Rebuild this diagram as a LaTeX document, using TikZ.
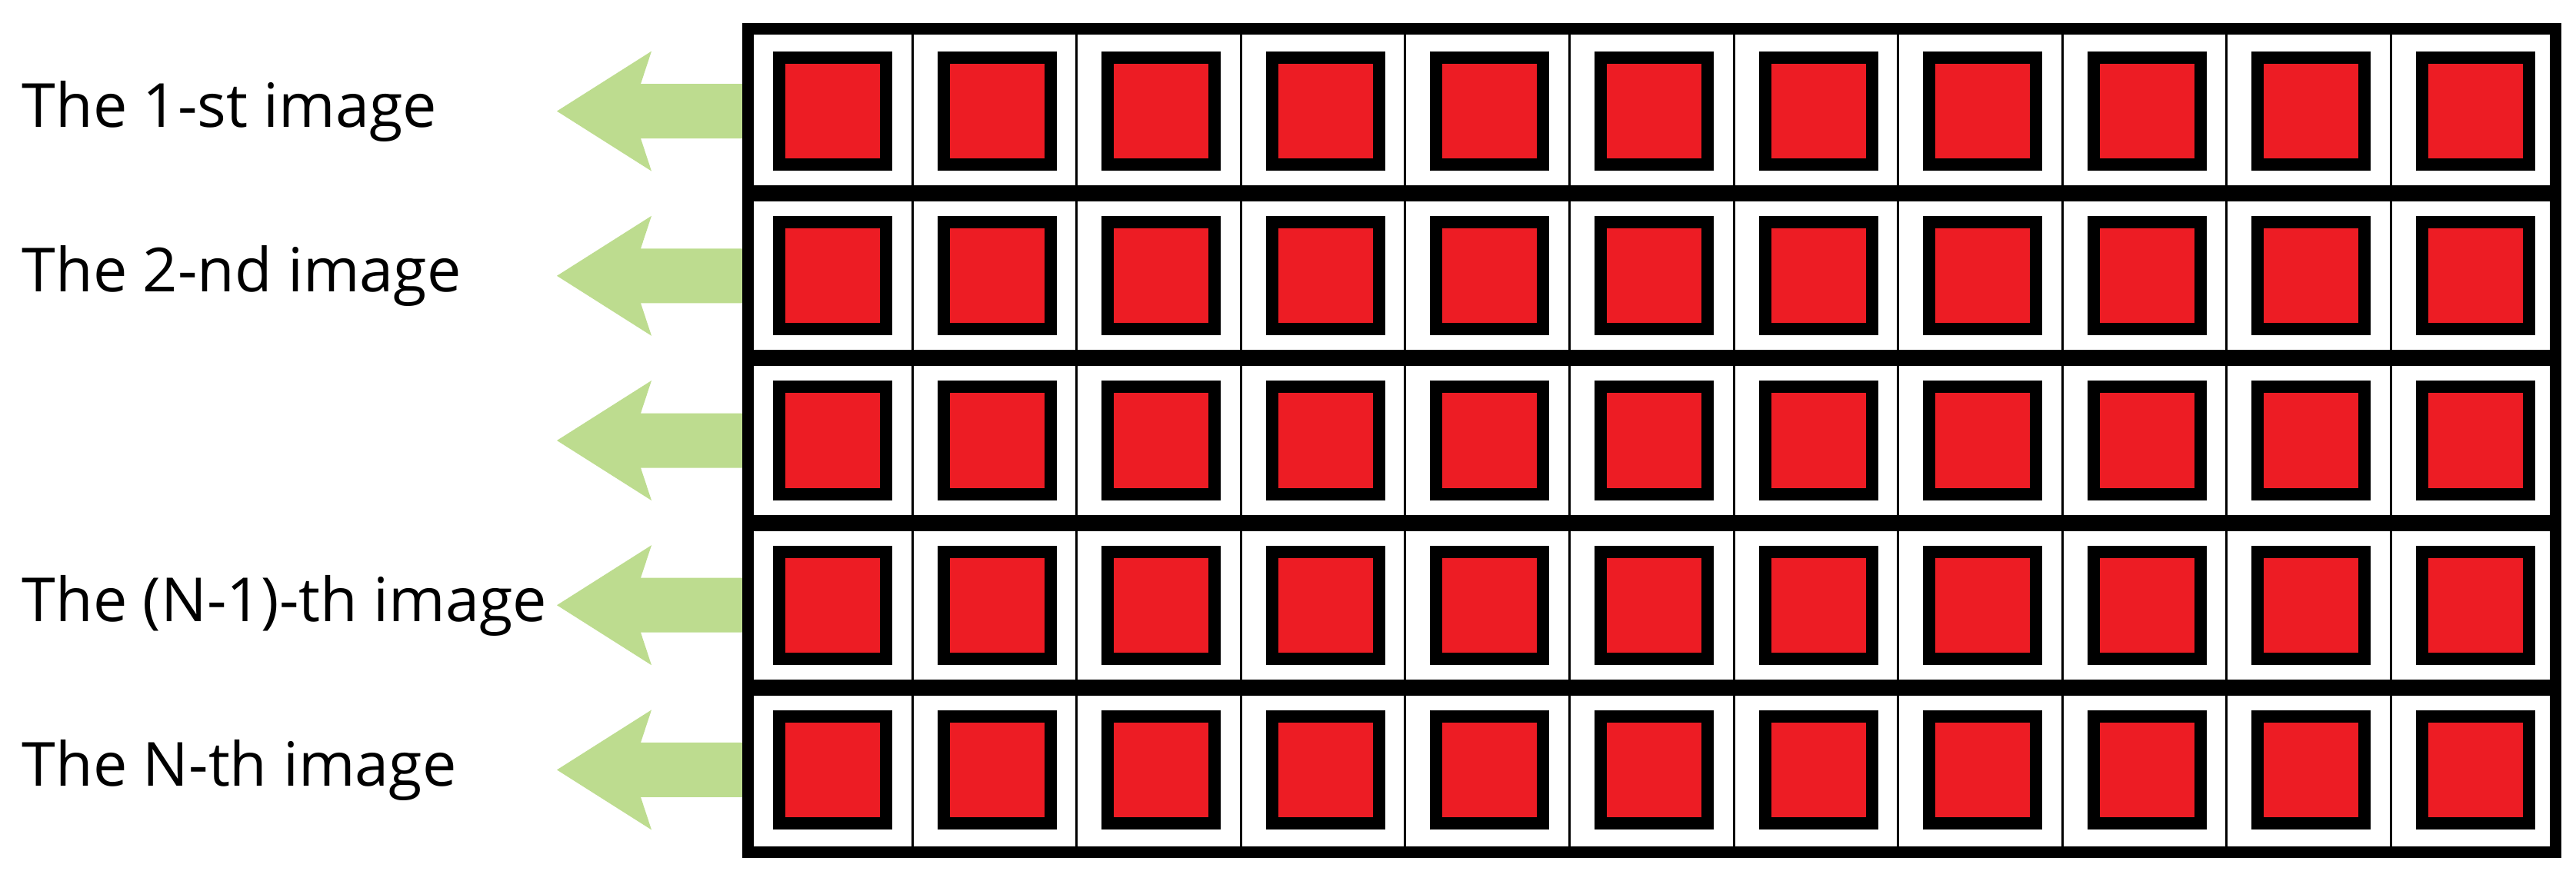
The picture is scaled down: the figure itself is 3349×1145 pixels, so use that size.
\documentclass[tikz,border=0pt]{standalone}
\usepackage{fontspec}
\setmainfont{Open Sans}
\definecolor{cellred}{RGB}{237,28,36}
\definecolor{arrowgreen}{RGB}{189,220,143}
\begin{document}
\begin{tikzpicture}[x=0.01cm,y=-0.01cm,
  cellsq/.style={shape=rectangle,draw=black,line width=0.16cm,fill=cellred,minimum size=1.39cm,inner sep=0pt},
  imglabel/.style={anchor=base west,inner sep=0pt,font=\fontsize{22.5}{27}\selectfont},
  bigarrow/.style={fill=arrowgreen},
  gridframe/.style={draw=black,line width=0.15cm},
  sepline/.style={draw=black,line width=0.21cm},
  thinline/.style={draw=black,line width=0.03cm}]
\useasboundingbox (0,0) rectangle (3349,1145);
% row anchors and arrows
\foreach \j in {1,...,5} {
  \coordinate (row\j) at (972,{144.6+214.2*(\j-1)});
  \fill[bigarrow] (row\j) +(0,-35.5) -- +(-139,-35.5) -- +(-125,-78) -- +(-248,0)
     -- +(-125,78) -- +(-139,35.5) -- +(0,35.5) -- cycle;
}
% labels
\node[imglabel] (lab1) at (28,165.6) {The 1-st image};
\node[imglabel] (lab2) at (28,379.8) {The 2-nd image};
\node[imglabel] (lab4) at (28,808.2) {The (N-1)-th image};
\node[imglabel] (lab5) at (28,1022.4) {The N-th image};
% grid
\foreach \k in {1,...,10}
  \draw[thinline] ({972.4+213.6*\k},37.5) -- ({972.4+213.6*\k},1108.5);
\foreach \j in {1,...,4}
  \draw[sepline] (972,{37.5+214.2*\j}) -- (3322,{37.5+214.2*\j});
\draw[gridframe] (972,37.5) rectangle (3322,1108.5);
% red squares
\foreach \j in {1,...,5}
  \foreach \i in {1,...,11}
    \node[cellsq] (sq-\j-\i) at ({1082.5+213.6*(\i-1)},{144.6+214.2*(\j-1)}) {};
\end{tikzpicture}
\end{document}
